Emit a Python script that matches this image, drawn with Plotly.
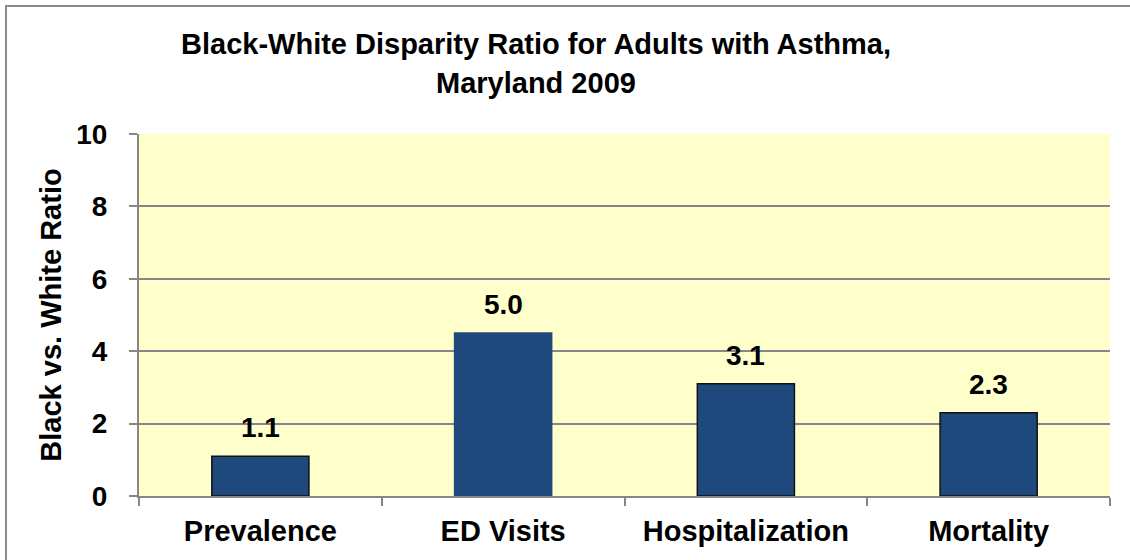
import plotly.graph_objects as go

categories = ["Prevalence", "ED Visits", "Hospitalization", "Mortality"]
bar_values = [1.1, 4.5, 3.1, 2.3]
label_texts = ["1.1", "5.0", "3.1", "2.3"]
outline_colors = ["#111111", "#1F497D", "#111111", "#111111"]
y_ticks = [0, 2, 4, 6, 8, 10]
title_lines = ["Black-White Disparity Ratio for Adults with Asthma,", "Maryland 2009"]

FONT = "Liberation Sans, Arial, sans-serif"
W, H = 1130, 560
L, R, T, B = 139, 20, 134, 64
ph = H - T - B
pw = W - L - R


def py(pix):
    return (H - B - pix) / ph


def px(pix):
    return (pix - L) / pw


fig = go.Figure()
fig.add_trace(go.Bar(
    x=categories, y=bar_values,
    marker=dict(color="#1F497D", line=dict(color=outline_colors, width=1.5)),
    width=0.4,
    hoverinfo="skip",
))

for c, v, t in zip(categories, bar_values, label_texts):
    fig.add_annotation(x=c, y=v, text=t, showarrow=False,
                       yanchor="bottom", yshift=11,
                       font=dict(family=FONT, size=28, color="black", weight="bold"))

# title as two lines
for line, ypix in zip(title_lines, [44, 83]):
    fig.add_annotation(xref="paper", yref="paper", x=px(536), y=py(ypix),
                       xanchor="center", yanchor="middle", showarrow=False,
                       text=line,
                       font=dict(family=FONT, size=29, color="black", weight="bold"))

# outer frame (top & left visible in reference)
fig.add_shape(type="rect", xref="paper", yref="paper",
              x0=px(6), x1=1.2, y0=-0.5, y1=py(6),
              line=dict(color="#8C8C8C", width=2), layer="below")

fig.update_layout(
    width=W, height=H,
    margin=dict(l=L, r=R, t=T, b=B),
    paper_bgcolor="white", plot_bgcolor="#FFFFCC",
    showlegend=False,
    font=dict(family=FONT, color="black"),
)
fig.update_xaxes(
    type="category", tickson="boundaries", ticks="outside", ticklen=8,
    tickcolor="#868686", tickwidth=2,
    showline=True, linecolor="#868686", linewidth=2,
    tickfont=dict(family=FONT, size=29, color="black", weight="bold"),
    ticklabelstandoff=8,
)
fig.update_yaxes(
    range=[0, 10], tickvals=y_ticks, ticks="outside", ticklen=8,
    tickcolor="#868686", tickwidth=2,
    showline=True, linecolor="#868686", linewidth=2,
    showgrid=True, gridcolor="#868686", gridwidth=2,
    zeroline=False,
    tickfont=dict(family=FONT, size=28, color="black", weight="bold"),
    ticklabelstandoff=16,
    title=dict(text="Black vs. White Ratio", standoff=6,
               font=dict(family=FONT, size=29, color="black", weight="bold")),
)

fig.write_html("out.html")
